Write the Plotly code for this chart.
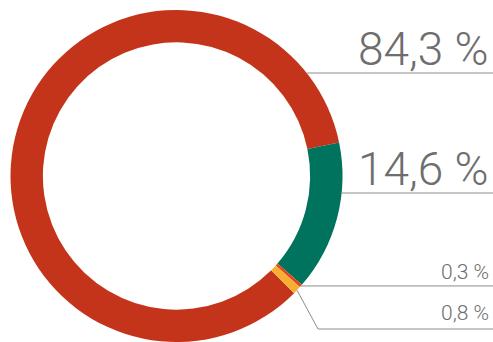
import math
import plotly.graph_objects as go

# Share of each segment (percent), in drawing order
segments = ["A", "B", "C", "D"]
shares = [84.3, 14.6, 0.3, 0.8]
share_labels = ["84,3 %", "14,6 %", "0,3 %", "0,8 %"]
colors = ["#C4341A", "#00735F", "#E2461C", "#F8AE34"]

W, H = 493, 342
cx, cy, R = 176.5, 176.0, 166.0      # ring centre / outer radius in px
HOLE = 0.805
ROTATION = 134.9                      # start of first slice, clockwise from 12 o'clock

fig = go.Figure(go.Pie(
    labels=segments,
    values=shares,
    sort=False,
    direction="clockwise",
    rotation=ROTATION,
    hole=HOLE,
    marker=dict(colors=colors, line=dict(width=0)),
    textinfo="none",
    hoverinfo="label+value",
    showlegend=False,
    domain=dict(x=[(cx - R) / W, (cx + R) / W], y=[0, 2 * R / H]),
))


def px(x):
    return x / W


def py(y):
    return 1 - y / H


def slice_mid_point(i):
    total = sum(shares)
    start = ROTATION + 360 * sum(shares[:i]) / total
    mid = math.radians(start + 180 * shares[i] / total)
    return cx + R * math.sin(mid), cy - R * math.cos(mid)


LINE = dict(color="#8C8C8C", width=1)
shapes = []

# Leader lines for the two large slices: horizontal, starting at the ring edge
for y in (73, 193):
    x0 = cx + math.sqrt(R * R - (y - cy) ** 2)
    shapes.append(dict(type="line", xref="paper", yref="paper",
                       x0=px(x0), y0=py(y), x1=1, y1=py(y), line=LINE))

# Small slice C: straight line from its midpoint
x0, y0 = slice_mid_point(2)
shapes.append(dict(type="line", xref="paper", yref="paper",
                   x0=px(x0), y0=py(y0), x1=1, y1=py(y0), line=LINE))

# Small slice D: elbow line from its midpoint down to the label row
x0, y0 = slice_mid_point(3)
elbow_x, elbow_y = 318, 329
shapes.append(dict(type="path", xref="paper", yref="paper",
                   path=f"M {px(x0)},{py(y0)} L {px(elbow_x)},{py(elbow_y)} L 1,{py(elbow_y)}",
                   line=LINE))

label_rows = [49, 169, 271.5, 313]
label_sizes = [46, 46, 21, 21]
annotations = []
for text, yc, size in zip(share_labels, label_rows, label_sizes):
    annotations.append(dict(
        text=text, xref="paper", yref="paper", x=px(491), y=py(yc),
        xanchor="right", yanchor="middle", showarrow=False,
        font=dict(family="Roboto", size=size, color="#6E6E6E", weight=300),
    ))

fig.update_layout(
    width=W, height=H,
    margin=dict(l=0, r=0, t=0, b=0),
    paper_bgcolor="white", plot_bgcolor="white",
    shapes=shapes, annotations=annotations,
)

fig.write_html("out.html")
